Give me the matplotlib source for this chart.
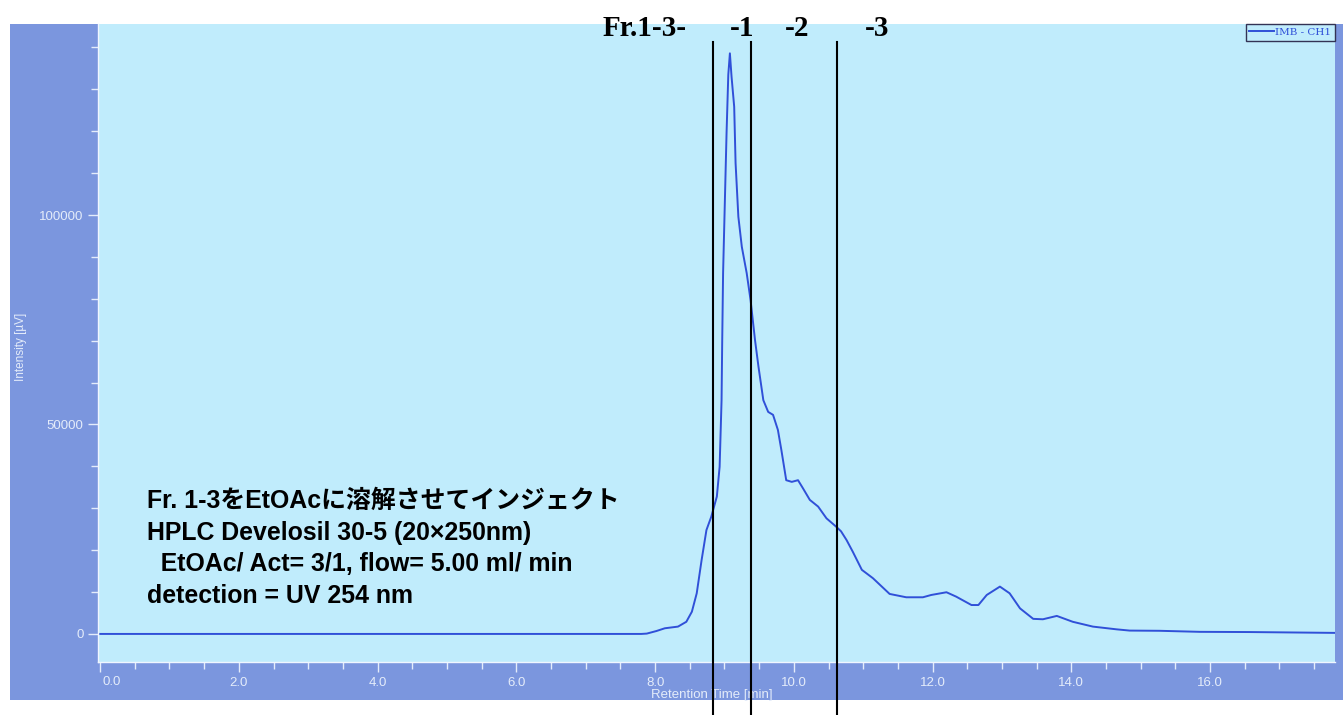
import numpy as np
import matplotlib.pyplot as plt
from matplotlib.ticker import MultipleLocator
import matplotlib.transforms as mtransforms

plt.rcParams['font.family'] = ['Liberation Sans', 'Noto Sans CJK JP', 'DejaVu Sans']

# chromatogram
t = [0.0, 7.8, 7.88, 8.02, 8.14, 8.33, 8.45, 8.53, 8.60, 8.67, 8.74, 8.81, 8.89,
     8.93, 8.958, 8.967, 8.98, 9.006, 9.03, 9.055, 9.078, 9.102, 9.14, 9.16,
     9.20, 9.25, 9.32, 9.376, 9.44, 9.49, 9.56, 9.63, 9.70, 9.77, 9.82, 9.89,
     9.97, 10.06, 10.13, 10.23, 10.35, 10.47, 10.61, 10.68, 10.76, 10.85, 10.98,
     11.14, 11.38, 11.62, 11.86, 11.98, 12.20, 12.34, 12.56, 12.66, 12.78, 12.97,
     13.11, 13.26, 13.45, 13.59, 13.79, 14.02, 14.31, 14.65, 14.84, 15.27, 15.85,
     16.57, 17.8]
signal = [0, 0, 80, 700, 1350, 1750, 2900, 5300, 9700, 17600, 24800, 28000, 32800,
          39900, 55800, 69450, 86150, 103600, 119600, 133500, 138600, 133000,
          125850, 112400, 99600, 92400, 86150, 79700, 70170, 63800, 55800, 53000,
          52300, 48700, 43900, 36700, 36300, 36700, 34800, 32000, 30400, 27600,
          25600, 24500, 22400, 19600, 15300, 13300, 9550, 8750, 8750, 9300, 9950,
          8900, 6900, 6900, 9300, 11300, 9700, 6100, 3600, 3500, 4300, 2900, 1750,
          1100, 800, 750, 500, 450, 250]

# fraction cut positions [min]
cuts = [8.83, 9.38, 10.62]
cut_labels = ["-1", "-2", "-3"]
cut_label_x = [742, 797, 877]

notes = ["Fr. 1-3をEtOAcに溶解させてインジェクト",
         "HPLC Develosil 30-5 (20\u00d7250nm)",
         "  EtOAc/ Act= 3/1, flow= 5.00 ml/ min",
         "detection = UV 254 nm"]

W, H = 1343, 715
fig = plt.figure(figsize=(W / 100, H / 100), dpi=100)
dark = '#7b96de'
light = '#c0ecfc'
tickc = '#e4ecfa'

# dark frame behind the plot
bg = fig.add_axes([10 / W, 1 - 700 / H, 1 - 10 / W, (700 - 24) / H])
bg.set_facecolor(dark)
bg.set_xticks([])
bg.set_yticks([])
for s in bg.spines.values():
    s.set_visible(False)

ax = fig.add_axes([98 / W, 1 - 662 / H, (1335 - 98) / W, (662 - 24) / H])
ax.set_facecolor(light)
ax.plot(t, signal, color='#3050d8', lw=1.4, label='IMB - CH1')
ax.set_xlim(-0.03, 17.8)
ax.set_ylim(-6700, 145600)

ax.xaxis.set_major_locator(MultipleLocator(2))
ax.xaxis.set_minor_locator(MultipleLocator(0.5))
ax.yaxis.set_major_locator(MultipleLocator(50000))
ax.yaxis.set_minor_locator(MultipleLocator(10000))
# first x label is drawn separately, shifted right of its tick
ax.xaxis.set_major_formatter(lambda v, p: "" if abs(v) < 1e-9 else f"{v:.1f}")
ax.yaxis.set_major_formatter(lambda v, p: f"{v:.0f}")
ax.tick_params(which='both', colors=tickc, labelcolor=tickc, labelsize=9.5, width=1)
ax.tick_params(which='major', length=7)
ax.tick_params(which='minor', length=5)
for s in ['top', 'right']:
    ax.spines[s].set_visible(False)
for s in ['left', 'bottom']:
    ax.spines[s].set_color('#f0f6ff')
    ax.spines[s].set_linewidth(1)

trans = mtransforms.blended_transform_factory(ax.transData, ax.transAxes)
ax.text(0.03, (662 - 682) / 638, "0.0", transform=trans, ha='left', va='center',
        color=tickc, fontsize=9.5)

ax.set_xlabel('Retention Time [min]', color=tickc, fontsize=9.5)
ax.xaxis.set_label_coords(0.496, -0.042)
ax.set_ylabel('Intensity [µV]', color=tickc, fontsize=8.5)
ax.yaxis.set_label_coords(-0.057, 0.494)

leg = ax.legend(loc='upper right', frameon=True, fancybox=False,
                borderaxespad=0, handlelength=2.4, handletextpad=0.1,
                borderpad=0.35, labelcolor='#3050d8',
                prop={'family': 'DejaVu Serif', 'size': 7.5})
leg.get_frame().set_edgecolor('#333355')
leg.get_frame().set_facecolor(light)
leg.get_frame().set_alpha(1)
leg.get_frame().set_linewidth(1)

# fraction cut lines, running past the axes
for c in cuts:
    ax.plot([c, c], [(662 - 42) / 638, (662 - 716) / 638], color='black', lw=1.5,
            transform=trans, clip_on=False, zorder=5)

fig.text(645 / W, 1 - 29 / H, "Fr.1-3-", ha='center', va='center', fontsize=21,
         fontweight='bold', family='Liberation Serif')
for lab, x in zip(cut_labels, cut_label_x):
    fig.text(x / W, 1 - 29 / H, lab, ha='center', va='center', fontsize=21,
             fontweight='bold', family='Liberation Serif')

for i, line in enumerate(notes):
    fig.text(147 / W, 1 - (501 + 31.7 * i) / H, line, ha='left', va='center',
             fontsize=17.9, fontweight='bold')

fig.savefig('out.png', dpi=100)
